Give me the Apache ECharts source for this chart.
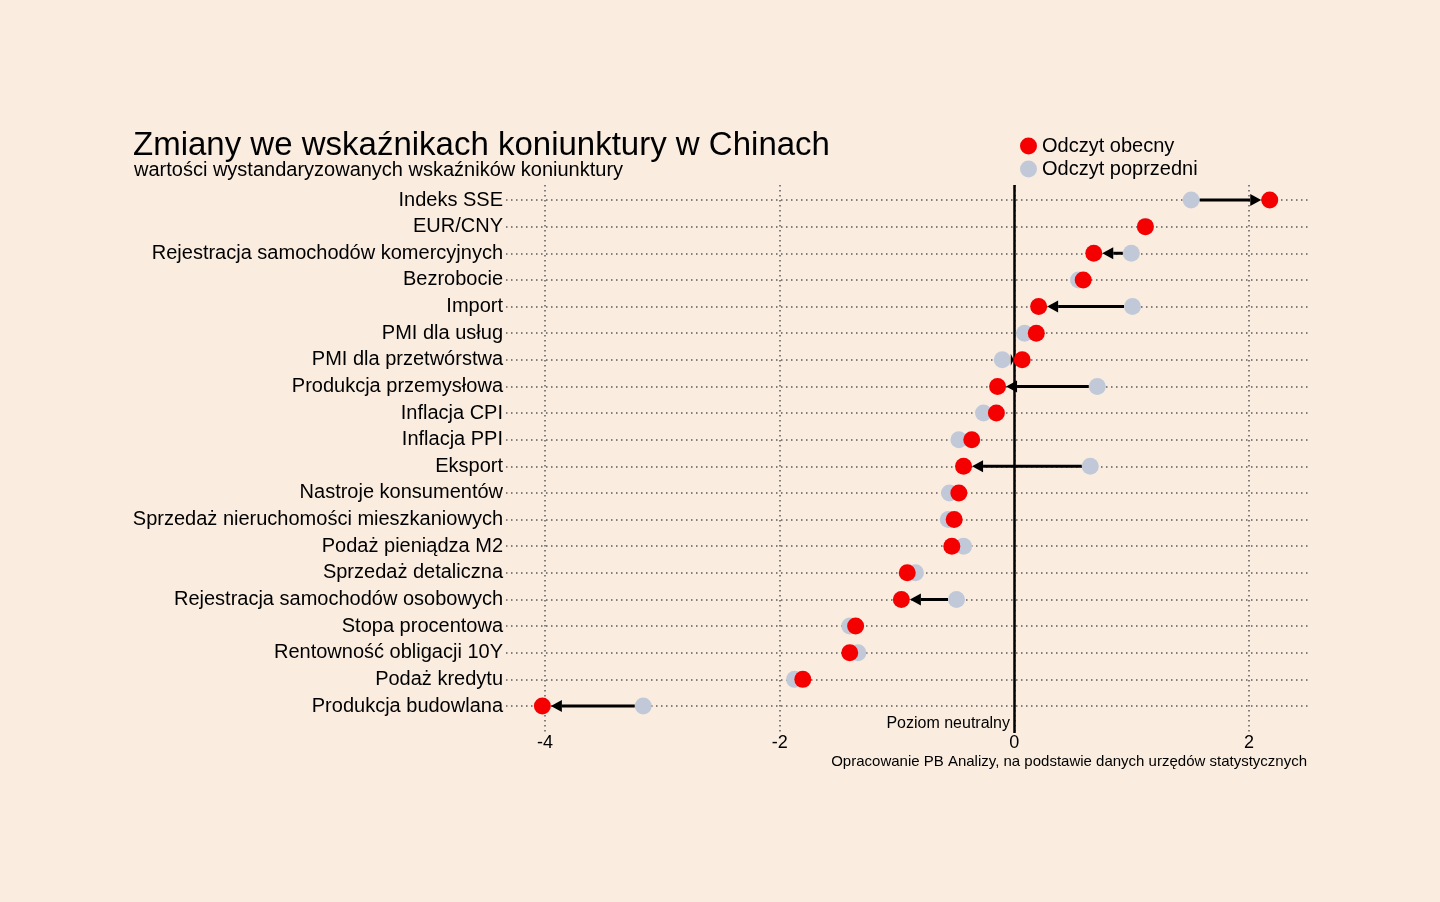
<!DOCTYPE html>
<html lang="pl">
<head>
    <meta charset="utf-8">
    <script src="https://cdn.jsdelivr.net/npm/echarts@6/dist/echarts.min.js"></script>
    <title>Koniunktura w Chinach</title>
    <style>
        html, body { margin: 0; height: 100%; background: #faede0; }
        #container { width: 1440px; height: 902px; }
    </style>
</head>
<body>
<div id="container"></div>
<script type="text/javascript">
    // wskaźniki, od góry do dołu
    const categories = [
        'Indeks SSE', 'EUR/CNY', 'Rejestracja samochodów komercyjnych', 'Bezrobocie', 'Import',
        'PMI dla usług', 'PMI dla przetwórstwa', 'Produkcja przemysłowa', 'Inflacja CPI', 'Inflacja PPI',
        'Eksport', 'Nastroje konsumentów', 'Sprzedaż nieruchomości mieszkaniowych', 'Podaż pieniądza M2',
        'Sprzedaż detaliczna', 'Rejestracja samochodów osobowych', 'Stopa procentowa',
        'Rentowność obligacji 10Y', 'Podaż kredytu', 'Produkcja budowlana'
    ];
    const currentValues = [2.18, 1.12, 0.68, 0.59, 0.21, 0.19, 0.07, -0.14, -0.15, -0.36,
        -0.43, -0.47, -0.51, -0.53, -0.91, -0.96, -1.35, -1.40, -1.80, -4.02];
    const previousValues = [1.51, 1.12, 1.00, 0.55, 1.01, 0.09, -0.10, 0.71, -0.26, -0.47,
        0.65, -0.55, -0.56, -0.43, -0.84, -0.49, -1.40, -1.33, -1.87, -3.16];
    const xTicks = [-4, -2, 0, 2];

    const FONT = 'Liberation Sans';
    const DOT = 17;
    const dotted = {color: '#5a5a5a', width: 1.5, type: [1.5, 3.5]};

    const myChart = echarts.init(document.getElementById('container'), null, {renderer: 'canvas'});

    const arrowData = categories.map((c, i) => [i, previousValues[i], currentValues[i]]);

    function renderArrow(params, api) {
        const idx = api.value(0);
        const p0 = api.coord([api.value(1), idx]);
        const p1 = api.coord([api.value(2), idx]);
        const dir = p1[0] >= p0[0] ? 1 : -1;
        const r = DOT / 2;
        const start = p0[0] + dir * r;
        const tip = p1[0] - dir * r;
        const gap = (tip - start) * dir;
        if (gap <= 0) return;
        const head = Math.min(11, gap);
        const base = tip - dir * head;
        const y = p0[1];
        const children = [];
        if (gap > head) {
            children.push({
                type: 'line',
                shape: {x1: start, y1: y, x2: base, y2: y},
                style: {stroke: '#000', lineWidth: 3}
            });
        }
        children.push({
            type: 'polygon',
            shape: {points: [[tip, y], [base, y - 6], [base, y + 6]]},
            style: {fill: '#000'}
        });
        return {type: 'group', children: children};
    }

    const option = {
        backgroundColor: '#faede0',
        animation: false,
        textStyle: {fontFamily: FONT},
        title: [
            {
                text: 'Zmiany we wskaźnikach koniunktury w Chinach',
                left: 133, top: 129, padding: 0,
                textStyle: {fontFamily: FONT, fontSize: 33, fontWeight: 'normal', color: '#000'}
            },
            {
                text: 'wartości wystandaryzowanych wskaźników koniunktury',
                left: 134, top: 160, padding: 0,
                textStyle: {fontFamily: FONT, fontSize: 20, fontWeight: 'normal', color: '#000'}
            }
        ],
        legend: {
            data: ['Odczyt obecny', 'Odczyt poprzedni'],
            orient: 'vertical',
            left: 1020, top: 136, padding: 0,
            itemWidth: DOT, itemHeight: DOT, itemGap: 3,
            icon: 'circle',
            textStyle: {fontFamily: FONT, fontSize: 20, color: '#000'}
        },
        grid: [
            {left: 506, right: 132, top: 200, bottom: 196},
            {left: 545, right: 191, top: 185, bottom: 169}
        ],
        xAxis: [
            {
                gridIndex: 0, type: 'value', min: -4.33, max: 2.506,
                show: false, splitLine: {show: false}
            },
            {
                gridIndex: 1, type: 'value', min: xTicks[0], max: xTicks[xTicks.length - 1], interval: 2,
                axisLine: {show: false}, axisTick: {show: false},
                axisLabel: {fontFamily: FONT, fontSize: 18, color: '#000', margin: 1},
                splitLine: {show: true, lineStyle: dotted}
            }
        ],
        yAxis: [
            {
                gridIndex: 0, type: 'category', data: categories, inverse: true, boundaryGap: false,
                axisLine: {show: false}, axisTick: {show: false},
                axisLabel: {interval: 0, fontFamily: FONT, fontSize: 20, color: '#000', margin: 3},
                splitLine: {show: true, interval: 0, lineStyle: dotted}
            },
            {gridIndex: 1, type: 'value', min: 0, max: 1, show: false}
        ],
        series: [
            {
                name: 'zero',
                type: 'scatter',
                xAxisIndex: 1, yAxisIndex: 1,
                data: [[0, 0]], symbolSize: 0, silent: true, z: 1,
                markLine: {
                    silent: true, symbol: 'none', label: {show: false},
                    lineStyle: {color: '#000', width: 2.5, type: 'solid'},
                    data: [{xAxis: 0}]
                }
            },
            {
                name: 'Odczyt poprzedni',
                type: 'scatter',
                xAxisIndex: 0, yAxisIndex: 0,
                symbolSize: DOT,
                itemStyle: {color: '#c1c9d9', opacity: 1},
                data: previousValues.map((v, i) => [v, i]),
                z: 3
            },
            {
                name: 'zmiana',
                type: 'custom',
                xAxisIndex: 0, yAxisIndex: 0,
                renderItem: renderArrow,
                encode: {x: [1, 2], y: 0},
                data: arrowData,
                silent: true,
                z: 4
            },
            {
                name: 'Odczyt obecny',
                type: 'scatter',
                xAxisIndex: 0, yAxisIndex: 0,
                symbolSize: DOT,
                itemStyle: {color: '#f40000', opacity: 1},
                data: currentValues.map((v, i) => [v, i]),
                z: 5
            }
        ],
        graphic: [
            {
                type: 'text', right: 1440 - 1010, top: 716,
                style: {text: 'Poziom neutralny', font: '16px "Liberation Sans"', fill: '#000'}
            },
            {
                type: 'text', right: 1440 - 1307, top: 754,
                style: {text: 'Opracowanie PB Analizy, na podstawie danych urzędów statystycznych',
                    font: '15px "Liberation Sans"', fill: '#000'}
            }
        ]
    };

    myChart.setOption(option);
</script>
</body>
</html>
